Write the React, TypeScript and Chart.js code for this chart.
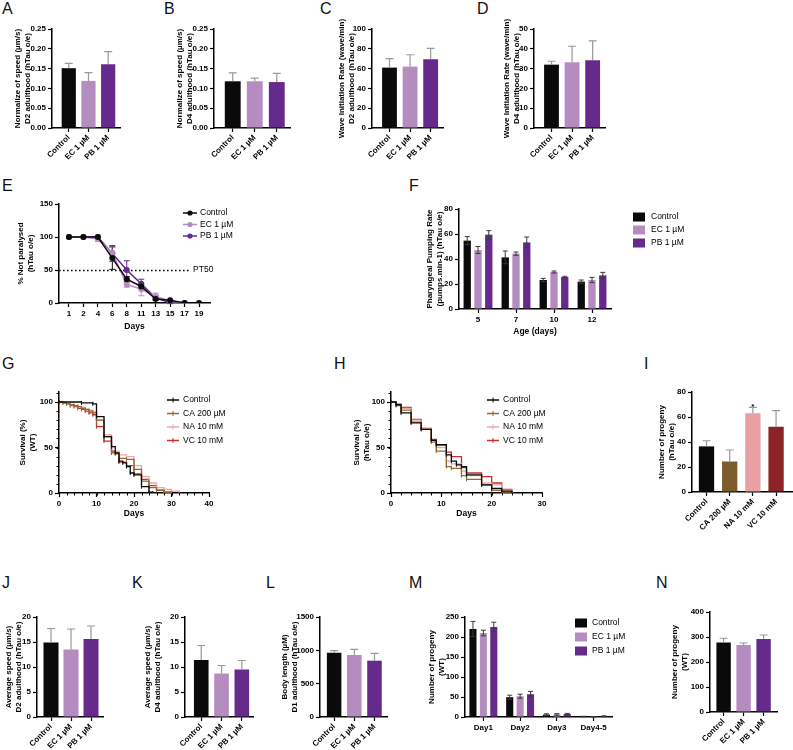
import React, { useEffect, useRef } from 'react';
import { Chart, registerables } from 'chart.js';

Chart.register(...registerables);

const FONT = "'Liberation Sans', Arial, Helvetica, sans-serif";
const C_CTRL = '#0a0a0a';
const C_EC = '#b48cc0';
const C_PB = '#652a8c';
const C_CA = '#7f5c2c';
const C_NA = '#e8a0a4';
const C_VC = '#8b2328';
const K_CA = '#8d6b32';
const K_NA = '#f0a6a6';
const K_VC = '#c0302c';
const ERR_GREY = '#999999';

// ---------------- data ----------------
const treat3 = ['Control', 'EC 1 µM', 'PB 1 µM'];
const treatColors = [C_CTRL, C_EC, C_PB];

const aMean = [0.151, 0.119, 0.161];
const aSD = [0.012, 0.021, 0.032];
const aTicks = [0, 0.05, 0.1, 0.15, 0.2, 0.25];
const bMean = [0.118, 0.118, 0.116];
const bSD = [0.021, 0.008, 0.022];
const cMean = [61, 62, 69.5];
const cSD = [9, 12, 11];
const cTicks = [0, 20, 40, 60, 80, 100];
const dMean = [32, 33.2, 34.2];
const dSD = [1.7, 8.1, 9.8];
const dTicks = [0, 10, 20, 30, 40, 50];

const eDays = ['1', '2', '4', '6', '8', '11', '13', '15', '17', '19'];
const eCtrl = [100, 100, 100, 68, 36, 25, 6, 4, 0, 0];
const eCtrlSD = [0, 0, 0, 17, 4, 3, 2, 1, 0, 0];
const eEC = [100, 100, 97, 76, 28, 21, 10, 3, 0, null];
const eECSD = [0, 0, 4, 8, 4, 10, 5, 2, 0, 0];
const ePB = [100, 100, 100, 75, 50, 29, 8, 0, 0, null];
const ePBSD = [0, 0, 0, 12, 14, 7, 3, 1, 0, 0];
const eTicks = [0, 50, 100, 150];
const ePT50 = 50;
const ePT50Label = 'PT50';

const fAges = ['5', '7', '10', '12'];
const fCtrl = [54.7, 41.3, 23.2, 21.9];
const fCtrlSD = [3.2, 5.1, 1.3, 1.3];
const fEC = [47.2, 44.3, 29.6, 23.2];
const fECSD = [2.8, 1.3, 0.8, 2.1];
const fPB = [59.5, 53.3, 25.6, 26.9];
const fPBSD = [3.2, 4.3, 0.6, 2.4];
const fTicks = [0, 20, 40, 60, 80];

const kmNames = ['Control', 'CA 200 µM', 'NA 10 mM', 'VC 10 mM'];
const kmColors = [C_CTRL, K_CA, K_NA, K_VC];

const gCtrlT = [0, 6, 9, 10, 12, 14, 15, 16, 17, 18, 19, 20, 22, 24, 25];
const gCtrlS = [100, 99, 98, 84, 62, 51, 44, 35, 33, 29, 22, 20, 7, 1, 0];
const gCAT = [0, 1, 2, 3, 4, 5, 6, 7, 8, 9, 10, 12, 14, 15, 16, 18, 20, 22, 24, 26, 28, 30];
const gCAS = [100, 99, 98, 97, 96, 95, 93, 92, 90, 88, 80, 62, 46, 43, 38, 37, 26, 13, 6, 3, 1, 0];
const gNAT = [0, 1, 2, 3, 4, 5, 6, 7, 8, 9, 10, 12, 14, 16, 18, 20, 22, 24, 26, 28, 30, 32];
const gNAS = [100, 99, 98, 97, 96, 95, 94, 92, 91, 89, 80, 64, 46, 42, 40, 30, 18, 11, 6, 4, 2, 1];
const gVCT = [0, 1, 2, 3, 4, 5, 6, 7, 8, 9, 10, 12, 14, 16, 18, 20, 22, 24, 26, 28, 30];
const gVCS = [100, 99, 98, 96, 95, 93, 92, 90, 88, 86, 73, 57, 44, 34, 30, 21, 15, 8, 3, 1, 0];

const hCtrlT = [0, 1, 2, 4, 6, 8, 9, 11, 12, 13, 14, 15, 18, 20, 22, 24];
const hCtrlS = [100, 97, 88, 77, 70, 58, 53, 42, 35, 31, 29, 20, 9, 5, 2, 0];
const hCAT = [0, 1, 2, 4, 6, 8, 9, 11, 12, 14, 15, 18, 20, 22, 24];
const hCAS = [100, 96, 91, 78, 70, 56, 46, 29, 27, 19, 15, 9, 3, 1, 0];
const hNAT = [0, 1, 2, 4, 6, 8, 9, 11, 12, 14, 15, 18, 20, 22, 24];
const hNAS = [100, 98, 93, 80, 71, 58, 50, 35, 32, 24, 19, 11, 9, 3, 0];
const hVCT = [0, 1, 2, 4, 6, 8, 9, 11, 12, 14, 15, 18, 20, 22, 24];
const hVCS = [100, 98, 94, 81, 71, 59, 53, 45, 40, 28, 22, 18, 11, 4, 0];
const kmYTicks = [0, 50, 100];

const iCats = ['Control', 'CA 200 µM', 'NA 10 mM', 'VC 10 mM'];
const iColors = [C_CTRL, C_CA, C_NA, C_VC];
const iMean = [36.5, 24.4, 63, 52.3];
const iSD = [4.5, 9.2, 4.7, 12.8];
const iStars = ['', '', '*', ''];
const iTicks = [0, 20, 40, 60, 80];

const jMean = [14.9, 13.5, 15.6];
const jSD = [2.8, 4.1, 2.6];
const kMean = [11.4, 8.7, 9.5];
const kSD = [2.9, 1.6, 1.8];
const jkTicks = [0, 5, 10, 15, 20];
const lMean = [962, 930, 845];
const lSD = [35, 85, 110];
const lTicks = [0, 500, 1000, 1500];

const mDays = ['Day1', 'Day2', 'Day3', 'Day4-5'];
const mCtrl = [220, 49.5, 6, 1];
const mCtrlSD = [19, 5, 2, 0.8];
const mEC = [210, 52, 6.5, 0.5];
const mECSD = [7, 5, 2, 0.5];
const mPB = [225, 57, 7.5, 2];
const mPBSD = [12, 7, 1.5, 1];
const mTicks = [0, 50, 100, 150, 200, 250];
const nMean = [278, 268, 292];
const nSD = [17, 8, 16];
const nTicks = [0, 100, 200, 300, 400];

// ---------------- styles ----------------
const tickFont = { family: FONT, size: 8, weight: 'bold' };
const titleFont = { family: FONT, size: 8, weight: 'bold', lineHeight: 1.2 };
const xTitleFont = { family: FONT, size: 8.5, weight: 'bold', lineHeight: 1.2 };

function geom(g: any) {
  const left = g.titleX - 2;
  const right = g.canvasRight ?? g.rightX + 6;
  return {
    style: { left, top: g.canvasTop, width: right - left, height: g.canvasBottom - g.canvasTop },
    padding: { left: 0, right: right - g.rightX, top: g.topY - g.canvasTop, bottom: 0 },
    yWidth: g.axisX - left,
    xHeight: g.canvasBottom - g.bottomY,
  };
}

const ROW1 = { topY: 29, bottomY: 128, canvasTop: 18, canvasBottom: 172 };
const ROW4 = { topY: 617, bottomY: 717, canvasTop: 604, canvasBottom: 750 };
const GEO: any = {
  A: { ...ROW1, titleX: 13, axisX: 52, rightX: 120 },
  B: { ...ROW1, titleX: 175, axisX: 214, rightX: 290 },
  C: { ...ROW1, titleX: 337, axisX: 372, rightX: 443 },
  D: { ...ROW1, titleX: 502, axisX: 534, rightX: 605 },
  E: { titleX: 16, axisX: 59, rightX: 210, topY: 204, bottomY: 303, canvasTop: 194, canvasBottom: 334, canvasRight: 262 },
  F: { titleX: 425, axisX: 459, rightX: 611, topY: 209, bottomY: 309, canvasTop: 198, canvasBottom: 339, canvasRight: 720 },
  G: { titleX: 18, axisX: 59, rightX: 209, topY: 392, bottomY: 493, canvasTop: 382, canvasBottom: 521, canvasRight: 262 },
  H: { titleX: 352, axisX: 391, rightX: 542, topY: 392, bottomY: 493, canvasTop: 382, canvasBottom: 521, canvasRight: 580 },
  I: { titleX: 657, axisX: 692, rightX: 793, topY: 392, bottomY: 492, canvasTop: 380, canvasBottom: 535, canvasRight: 793 },
  J: { ...ROW4, titleX: 4, axisX: 37, rightX: 103 },
  K: { ...ROW4, titleX: 143, axisX: 185, rightX: 253 },
  L: { ...ROW4, titleX: 280, axisX: 320, rightX: 387 },
  M: { ...ROW4, titleX: 427, axisX: 465, rightX: 612, canvasRight: 700 },
  N: { ...ROW4, titleX: 670, axisX: 710, rightX: 777, topY: 612, bottomY: 712, canvasTop: 600 },
};

const LETTERS = [
  ['A', 3, 3], ['B', 165, 3], ['C', 321, 3], ['D', 478, 3],
  ['E', 3, 180], ['F', 410, 180],
  ['G', 3, 358], ['H', 335, 358], ['I', 645, 358],
  ['J', 3, 577], ['K', 133, 577], ['L', 267, 577], ['M', 410, 577], ['N', 657, 577],
];

// ---------------- plugins ----------------
function drawErrors(chart: any, behind: boolean) {
  const { ctx } = chart;
  chart.data.datasets.forEach((ds: any, di: number) => {
    if (!ds.errors || !!ds.errBehind !== behind) return;
    const meta = chart.getDatasetMeta(di);
    const ys = chart.scales[meta.yAxisID];
    ctx.save();
    ctx.strokeStyle = ds.errColor || '#000';
    ctx.lineWidth = ds.errWidth || 1;
    meta.data.forEach((el: any, i: number) => {
      const raw = ds.data[i];
      const v = raw !== null && typeof raw === 'object' ? raw.y : raw;
      const e = ds.errors[i];
      if (v === null || v === undefined || !e) return;
      const x = el.x;
      const yt = ys.getPixelForValue(v + e);
      const yb = ds.errUpOnly ? ys.getPixelForValue(v) : ys.getPixelForValue(v - e);
      const cw = ds.capWidth ?? 3;
      ctx.beginPath();
      ctx.moveTo(x, yt);
      ctx.lineTo(x, yb);
      ctx.moveTo(x - cw, yt);
      ctx.lineTo(x + cw, yt);
      if (!ds.errUpOnly) {
        ctx.moveTo(x - cw, yb);
        ctx.lineTo(x + cw, yb);
      }
      ctx.stroke();
    });
    ctx.restore();
  });
}

const errorBars = {
  id: 'errorBars',
  beforeDatasetsDraw(chart: any) { drawErrors(chart, true); },
  afterDatasetsDraw(chart: any) { drawErrors(chart, false); },
};

function legendPlugin(id: string, geo: any, names: string[], colors: string[], o: any) {
  return {
    id,
    afterDraw(chart: any) {
      const ctx = chart.ctx;
      const ox = geo.style.left;
      const oy = geo.style.top;
      ctx.save();
      ctx.font = `normal 8.5px ${FONT}`;
      ctx.textBaseline = 'middle';
      ctx.textAlign = 'left';
      names.forEach((name, i) => {
        const yy = o.y + i * o.dy - oy;
        const x0 = o.x - ox;
        const col = colors[i];
        if (o.kind === 'box') {
          ctx.fillStyle = col;
          ctx.fillRect(x0, yy - 4.5, 12, 9);
        } else {
          ctx.strokeStyle = col;
          ctx.lineWidth = 1.5;
          ctx.beginPath();
          ctx.moveTo(x0, yy);
          ctx.lineTo(x0 + o.w, yy);
          ctx.stroke();
          if (o.kind === 'dot') {
            ctx.fillStyle = col;
            ctx.beginPath();
            ctx.arc(x0 + o.w / 2, yy, 2.6, 0, Math.PI * 2);
            ctx.fill();
          } else {
            ctx.lineWidth = 1;
            ctx.beginPath();
            ctx.moveTo(x0 + o.w / 2, yy - 2.5);
            ctx.lineTo(x0 + o.w / 2, yy + 2.5);
            ctx.stroke();
          }
        }
        ctx.fillStyle = '#000';
        ctx.fillText(name, o.textX - ox, yy);
      });
      ctx.restore();
    },
  };
}

function minorTicks(xStep: number, yStep: number) {
  return {
    id: 'minorTicks',
    afterDraw(chart: any) {
      const { ctx, chartArea } = chart;
      const x = chart.scales.x;
      const y = chart.scales.y;
      ctx.save();
      ctx.strokeStyle = '#000';
      ctx.lineWidth = 1;
      ctx.beginPath();
      for (let v = x.min; v <= x.max + 1e-9; v += xStep) {
        const px = Math.round(x.getPixelForValue(v)) + 0.5;
        ctx.moveTo(px, chartArea.bottom);
        ctx.lineTo(px, chartArea.bottom + 2.5);
      }
      for (let v = y.min; v <= y.max + 1e-9; v += yStep) {
        const py = Math.round(y.getPixelForValue(v)) + 0.5;
        ctx.moveTo(chartArea.left, py);
        ctx.lineTo(chartArea.left - 2.5, py);
      }
      ctx.stroke();
      ctx.restore();
    },
  };
}

const pt50Plugin = {
  id: 'pt50',
  beforeDatasetsDraw(chart: any) {
    const { ctx, chartArea } = chart;
    const x = chart.scales.x;
    const y = chart.scales.y;
    const py = Math.round(y.getPixelForValue(ePT50)) + 0.5;
    const x1 = x.getPixelForValue(9.38);
    ctx.save();
    ctx.setLineDash([1.6, 2.4]);
    ctx.strokeStyle = '#000';
    ctx.lineWidth = 1.4;
    ctx.beginPath();
    ctx.moveTo(chartArea.left, py);
    ctx.lineTo(x1, py);
    ctx.stroke();
    ctx.restore();
  },
  afterDraw(chart: any) {
    const { ctx } = chart;
    const x = chart.scales.x;
    const y = chart.scales.y;
    ctx.save();
    ctx.font = `normal 8.5px ${FONT}`;
    ctx.fillStyle = '#000';
    ctx.textBaseline = 'middle';
    ctx.fillText(ePT50Label, x.getPixelForValue(9.38) + 3, y.getPixelForValue(ePT50));
    ctx.restore();
  },
};

const starPlugin = {
  id: 'stars',
  afterDatasetsDraw(chart: any) {
    const { ctx } = chart;
    const meta = chart.getDatasetMeta(0);
    const y = chart.scales.y;
    ctx.save();
    ctx.font = `bold 8px ${FONT}`;
    ctx.fillStyle = '#000';
    ctx.textAlign = 'center';
    ctx.textBaseline = 'bottom';
    iStars.forEach((s, i) => {
      if (!s) return;
      ctx.fillText(s, meta.data[i].x, y.getPixelForValue(iMean[i] + iSD[i]) + 3);
    });
    ctx.restore();
  },
};

// ---------------- axes ----------------
function baseOptions(geo: any, scales: any) {
  return {
    responsive: false,
    maintainAspectRatio: false,
    animation: false,
    devicePixelRatio: 1,
    events: [],
    layout: { padding: geo.padding },
    plugins: { legend: { display: false }, tooltip: { enabled: false } },
    scales,
  };
}

function yAxis(geo: any, o: any) {
  return {
    type: 'linear',
    min: o.min ?? 0,
    max: o.max ?? o.ticks[o.ticks.length - 1],
    afterBuildTicks: (s: any) => { s.ticks = o.ticks.map((v: number) => ({ value: v })); },
    ticks: { color: '#000', font: tickFont, padding: 2, autoSkip: false, callback: (v: number) => (o.fmt ? o.fmt(v) : String(v)) },
    grid: { drawOnChartArea: false, drawTicks: true, tickLength: 4, tickColor: '#000', tickWidth: 1.2 },
    border: { display: true, color: '#000', width: 1.5 },
    title: { display: true, text: o.title, color: '#000', font: titleFont, padding: { top: 2, bottom: 0 } },
    afterFit: (s: any) => { s.width = geo.yWidth; },
  };
}

function xAxis(geo: any, o: any) {
  return {
    type: 'linear',
    min: o.min,
    max: o.max,
    offset: false,
    afterBuildTicks: (s: any) => { s.ticks = o.ticks.map((v: number) => ({ value: v })); },
    ticks: {
      autoSkip: false, minRotation: o.rot || 0, maxRotation: o.rot || 0, color: '#000', font: tickFont, padding: o.tickPad ?? 1,
      callback: (v: number, i: number) => (o.labels ? o.labels[i] : String(v)),
    },
    grid: { drawOnChartArea: false, offset: false, drawTicks: true, tickLength: 4, tickColor: '#000', tickWidth: 1.2 },
    border: { display: true, color: '#000', width: 1.5 },
    title: o.title
      ? { display: true, text: o.title, color: '#000', font: xTitleFont, padding: { top: 0, bottom: 2 } }
      : { display: false },
    afterFit: (s: any) => { s.height = geo.xHeight; },
  };
}

function xCategory(geo: any, o: any) {
  return {
    type: 'category',
    offset: true,
    ticks: { autoSkip: false, minRotation: 0, maxRotation: 0, color: '#000', font: tickFont, padding: 2 },
    grid: { drawOnChartArea: false, offset: false, drawTicks: true, tickLength: 4, tickColor: '#000', tickWidth: 1.2 },
    border: { display: true, color: '#000', width: 1.5 },
    title: o.title
      ? { display: true, text: o.title, color: '#000', font: xTitleFont, padding: { top: 0, bottom: 2 } }
      : { display: false },
    afterFit: (s: any) => { s.height = geo.xHeight; },
  };
}

// ---------------- builders ----------------
function barPanel(o: any) {
  return (geo: any) => ({
    type: 'bar',
    data: {
      datasets: [{
        data: o.means.map((v: number, i: number) => ({ x: i + 1, y: v })),
        backgroundColor: o.colors,
        borderWidth: 0,
        barPercentage: o.barPct ?? 0.72,
        categoryPercentage: 1,
        errors: o.sds,
        errUpOnly: true,
        errColor: ERR_GREY,
        errWidth: 1.2,
        capWidth: 4,
      }],
    },
    options: baseOptions(geo, {
      x: xAxis(geo, { min: o.xMin ?? 0.15, max: o.xMax ?? 3.6, ticks: o.labels.map((_: any, i: number) => i + 1), labels: o.labels, rot: 45 }),
      y: yAxis(geo, { ticks: o.yTicks, fmt: o.fmt, title: o.title }),
    }),
    plugins: [errorBars, ...(o.plugins || [])],
  });
}

function groupedPanel(o: any) {
  return (geo: any) => ({
    type: 'bar',
    data: {
      labels: o.labels,
      datasets: o.series.map((vals: number[], k: number) => ({
        label: o.names[k],
        data: vals,
        backgroundColor: o.colors[k],
        borderWidth: 0,
        barPercentage: 0.68,
        categoryPercentage: 0.85,
        errors: o.sds[k],
        errColor: '#3a3a3a',
        errWidth: 1,
        capWidth: 2.5,
      })),
    },
    options: baseOptions(geo, {
      x: xCategory(geo, { title: o.xTitle }),
      y: yAxis(geo, { ticks: o.yTicks, title: o.title }),
    }),
    plugins: [errorBars, legendPlugin('legend_' + o.id, geo, o.names, o.colors, o.legend)],
  });
}

function buildE(geo: any) {
  const mk = (label: string, vals: any[], sds: number[], color: string) => ({
    label,
    data: vals.map((v, i) => ({ x: i + 1, y: v })),
    borderColor: color,
    backgroundColor: color,
    pointBackgroundColor: color,
    pointBorderColor: color,
    pointRadius: 3,
    pointBorderWidth: 0,
    borderWidth: 1.5,
    errors: sds,
    errColor: color,
    errWidth: 1,
    capWidth: 3,
    errBehind: true,
  });
  return {
    type: 'line',
    data: { datasets: [mk(treat3[0], eCtrl, eCtrlSD, C_CTRL), mk(treat3[1], eEC, eECSD, C_EC), mk(treat3[2], ePB, ePBSD, C_PB)] },
    options: baseOptions(geo, {
      x: xAxis(geo, { min: 0.31, max: 10.76, ticks: eDays.map((_, i) => i + 1), labels: eDays, title: 'Days', tickPad: 2 }),
      y: yAxis(geo, { ticks: eTicks, title: ['% Not paralysed', '(hTau o/e)'] }),
    }),
    plugins: [errorBars, pt50Plugin, legendPlugin('legendE', geo, treat3, treatColors, { kind: 'dot', x: 183, w: 14, textX: 200, y: 213, dy: 11.5 })],
  };
}

function kmPanel(o: any) {
  return (geo: any) => ({
    type: 'line',
    data: {
      datasets: o.series.map((s: any, k: number) => ({
        label: kmNames[k],
        data: s[0].map((t: number, i: number) => ({ x: t, y: s[1][i] })),
        borderColor: kmColors[k],
        backgroundColor: kmColors[k],
        borderWidth: 1.3,
        stepped: 'before',
        pointStyle: 'line',
        pointRotation: 90,
        pointRadius: 2,
        pointBorderColor: kmColors[k],
        pointBorderWidth: 1,
      })),
    },
    options: baseOptions(geo, {
      x: xAxis(geo, { min: 0, max: o.xMax, ticks: o.xTicks, title: 'Days', tickPad: 2 }),
      y: yAxis(geo, { max: 111, ticks: kmYTicks, title: o.title }),
    }),
    plugins: [minorTicks(2, 10), legendPlugin('legend_' + o.id, geo, kmNames, kmColors, o.legend)],
  });
}

const BUILDERS: any = {
  A: barPanel({ labels: treat3, means: aMean, sds: aSD, colors: treatColors, yTicks: aTicks, fmt: (v: number) => v.toFixed(2), title: ['Normalize of speed (µm/s)', 'D2 adulthood (hTau o/e)'] }),
  B: barPanel({ labels: treat3, means: bMean, sds: bSD, colors: treatColors, yTicks: aTicks, fmt: (v: number) => v.toFixed(2), title: ['Normalize of speed (µm/s)', 'D4 adulthood (hTau o/e)'] }),
  C: barPanel({ labels: treat3, means: cMean, sds: cSD, colors: treatColors, yTicks: cTicks, title: ['Wave Initiation Rate (wave/min)', 'D2 adulthood (hTau o/e)'] }),
  D: barPanel({ labels: treat3, means: dMean, sds: dSD, colors: treatColors, yTicks: dTicks, title: ['Wave Initiation Rate (wave/min)', 'D4 adulthood (hTau o/e)'] }),
  E: buildE,
  F: groupedPanel({
    id: 'F', labels: fAges, names: treat3, colors: treatColors, series: [fCtrl, fEC, fPB], sds: [fCtrlSD, fECSD, fPBSD],
    yTicks: fTicks, title: ['Pharyngeal Pumping Rate', '(pumps.min-1) (hTau o/e)'], xTitle: 'Age (days)',
    legend: { kind: 'box', x: 633, textX: 651, y: 217, dy: 13 },
  }),
  G: kmPanel({ id: 'G', series: [[gCtrlT, gCtrlS], [gCAT, gCAS], [gNAT, gNAS], [gVCT, gVCS]], xMax: 40, xTicks: [0, 10, 20, 30, 40], title: ['Survival (%)', '(WT)'], legend: { kind: 'tick', x: 167, w: 12, textX: 183, y: 400, dy: 13.5 } }),
  H: kmPanel({ id: 'H', series: [[hCtrlT, hCtrlS], [hCAT, hCAS], [hNAT, hNAS], [hVCT, hVCS]], xMax: 30, xTicks: [0, 10, 20, 30], title: ['Survival (%)', '(hTau o/e)'], legend: { kind: 'tick', x: 487, w: 12, textX: 503, y: 400, dy: 13.5 } }),
  I: barPanel({ labels: iCats, means: iMean, sds: iSD, colors: iColors, yTicks: iTicks, title: ['Number of progeny', '(hTau o/e)'], xMin: 0.375, xMax: 4.73, barPct: 0.66, plugins: [starPlugin] }),
  J: barPanel({ labels: treat3, means: jMean, sds: jSD, colors: treatColors, yTicks: jkTicks, title: ['Average speed (µm/s)', 'D2 adulthood (hTau o/e)'], xMin: 0.3, xMax: 3.6, barPct: 0.75 }),
  K: barPanel({ labels: treat3, means: kMean, sds: kSD, colors: treatColors, yTicks: jkTicks, title: ['Average speed (µm/s)', 'D4 adulthood (hTau o/e)'], xMin: 0.2, xMax: 3.55 }),
  L: barPanel({ labels: treat3, means: lMean, sds: lSD, colors: treatColors, yTicks: lTicks, title: ['Body length (µM)', 'D1 adulthood (hTau o/e)'], xMin: 0.3, xMax: 3.62 }),
  M: groupedPanel({
    id: 'M', labels: mDays, names: treat3, colors: treatColors, series: [mCtrl, mEC, mPB], sds: [mCtrlSD, mECSD, mPBSD],
    yTicks: mTicks, title: ['Number of progeny', '(WT)'],
    legend: { kind: 'box', x: 575, textX: 592, y: 623, dy: 14 },
  }),
  N: barPanel({ labels: treat3, means: nMean, sds: nSD, colors: treatColors, yTicks: nTicks, title: ['Number of progeny', '(WT)'], xMin: 0.32, xMax: 3.67 }),
};

function Panel({ id }: { id: string }) {
  const ref = useRef<HTMLCanvasElement>(null);
  const geo = geom(GEO[id]);
  useEffect(() => {
    const chart = new Chart(ref.current as HTMLCanvasElement, BUILDERS[id](geo));
    return () => chart.destroy();
  }, []);
  return (
    <canvas
      ref={ref}
      width={geo.style.width}
      height={geo.style.height}
      style={{ position: 'absolute', left: geo.style.left, top: geo.style.top, width: geo.style.width, height: geo.style.height }}
    />
  );
}

export default function App() {
  return (
    <div style={{ position: 'absolute', left: 0, top: 0, width: 793, height: 750, background: '#fff', overflow: 'hidden' }}>
      {LETTERS.map(([t, x, y]) => (
        <div
          key={t as string}
          style={{ position: 'absolute', left: (x as number) - 1, top: (y as number) - 2, fontFamily: FONT, fontSize: 16, lineHeight: '16px', color: '#111' }}
        >
          {t}
        </div>
      ))}
      {Object.keys(GEO).map((id) => (
        <Panel key={id} id={id} />
      ))}
    </div>
  );
}
